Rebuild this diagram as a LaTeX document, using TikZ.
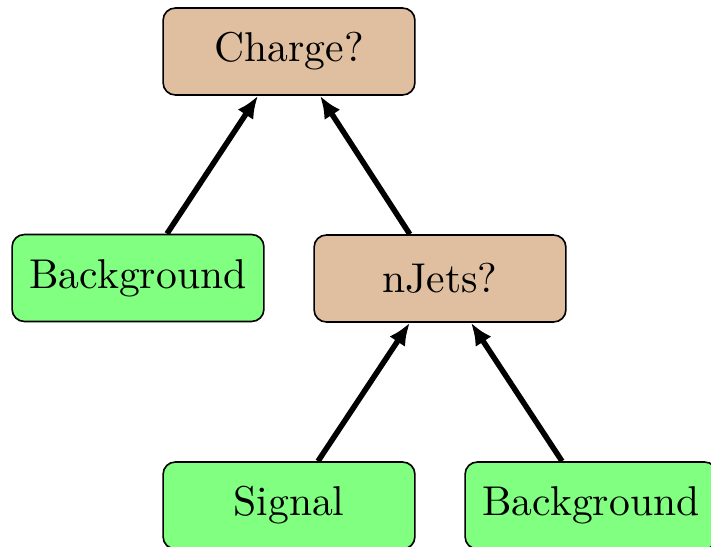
\documentclass[tikz,border=0pt]{standalone}
\usetikzlibrary{arrows.meta}
\begin{document}
\begin{tikzpicture}[x=0.245pt,y=-0.245pt,
  box/.style={draw=black,line width=0.4pt,rounded corners=3pt,
    minimum width=61.7pt,minimum height=21.3pt,inner sep=0pt,
    font=\fontsize{10.2pt}{12pt}\selectfont},
  decision/.style={box,fill=brown!50},
  leaf/.style={box,fill=green!50},
  arr/.style={line width=1.35pt,-{Latex[length=5.5pt,width=4.6pt]}}]
  \useasboundingbox (0,0) rectangle (711,547);
  \clip (0,0) rectangle (711,547);
  \node[decision] (charge) at (289,51.5) {Charge?};
  \node[leaf]     (bgl)    at (138,278)  {Background};
  \node[decision] (njets)  at (440,278.5) {nJets?};
  \node[leaf]     (sig)    at (289,505.5) {Signal};
  \node[leaf]     (bgr)    at (591,505.5) {Background};
  \draw[arr] ([xshift=7.1pt]bgl.north)    -- ([xshift=-7.6pt]charge.south);
  \draw[arr] ([xshift=-7.4pt]njets.north) -- ([xshift=7.6pt]charge.south);
  \draw[arr] ([xshift=7.1pt]sig.north)    -- ([xshift=-7.4pt]njets.south);
  \draw[arr] ([xshift=-7.1pt]bgr.north)   -- ([xshift=7.6pt]njets.south);
\end{tikzpicture}
\end{document}
